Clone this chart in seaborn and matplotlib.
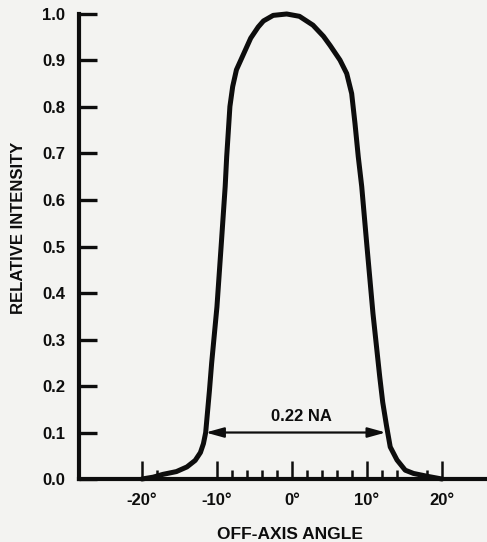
import matplotlib
matplotlib.use("Agg")
import matplotlib.pyplot as plt
import seaborn as sns
import pandas as pd
from matplotlib.ticker import FixedLocator, FixedFormatter

# Measured far-field intensity profile of the fiber output
angle_deg = [-20, -18.5, -17.2, -15.4, -14.0, -12.9, -12.2, -11.8, -11.5, -11.0, -10.7,
             -10.0, -9.4, -8.9, -8.7, -8.5, -8.27, -7.9, -7.4, -6.7, -5.5, -4.5,
             -3.8, -2.5, -0.7, 1.0, 2.8, 4.2, 5.1, 6.4, 7.3, 7.96, 8.4, 8.84, 9.3,
             10.0, 10.8, 11.7, 12.1, 12.6, 13.1, 14.0, 15.1, 16.2, 18.0, 20.0]
intensity = [0.0, 0.004, 0.010, 0.016, 0.026, 0.040, 0.057, 0.076, 0.10, 0.19, 0.25,
             0.37, 0.51, 0.629, 0.693, 0.743, 0.801, 0.844, 0.880, 0.905, 0.948, 0.972,
             0.985, 0.997, 1.0, 0.995, 0.976, 0.952, 0.932, 0.901, 0.872, 0.829, 0.765, 0.693, 0.629,
             0.50, 0.356, 0.22, 0.165, 0.115, 0.069, 0.041, 0.019, 0.012, 0.006, 0.0]

# Numerical-aperture marker at 10 % intensity
na_left, na_right, na_level = -11.5, 12.5, 0.1
na_label = "0.22 NA"

y_ticks = [0.0, 0.1, 0.2, 0.3, 0.4, 0.5, 0.6, 0.7, 0.8, 0.9, 1.0]
y_tick_labels = ["0.0", "0.1", "0.2", "0.3", "0.4", "0.5", "0.6", "0.7", "0.8", "0.9", "1.0"]
x_major = [-20, -10, 0, 10, 20]
x_major_labels = ["-20°", "-10°", "0°", "10°", "20°"]
x_minor = [-18, -8, -6, -4, -2, 2, 4, 6, 8, 12, 14, 18]

sns.set_theme(style="white")
plt.rcParams["font.family"] = ["Liberation Sans", "DejaVu Sans"]
plt.rcParams["font.weight"] = "bold"

paper = "#f3f3f1"
ink = "#0d0d0d"

fig = plt.figure(figsize=(4.87, 5.42), dpi=100, facecolor=paper)
ax = fig.add_axes([0.162, 0.1162, 0.838, 0.8580], facecolor=paper)

df = pd.DataFrame({"angle": angle_deg, "intensity": intensity})
sns.lineplot(data=df, x="angle", y="intensity", ax=ax, color=ink, linewidth=3.6,
             sort=False, clip_on=False, solid_capstyle="round", solid_joinstyle="round")

ax.annotate("", xy=(na_left, na_level), xytext=(na_right, na_level),
            arrowprops=dict(arrowstyle="<|-|>,head_length=0.9,head_width=0.25",
                            color=ink, lw=1.6, shrinkA=0, shrinkB=0))
ax.text(1.2, 0.135, na_label, ha="center", va="center", fontsize=12,
        fontweight="bold", color=ink)

ax.set_xlim(-28.4, 26.0)
ax.set_ylim(0, 1.0)

for side in ("top", "right"):
    ax.spines[side].set_visible(False)
for side in ("left", "bottom"):
    ax.spines[side].set_linewidth(3.0)
    ax.spines[side].set_color(ink)
    ax.spines[side].set_capstyle("projecting")

ax.yaxis.set_major_locator(FixedLocator(y_ticks))
ax.yaxis.set_major_formatter(FixedFormatter(y_tick_labels))
ax.xaxis.set_major_locator(FixedLocator(x_major))
ax.xaxis.set_major_formatter(FixedFormatter(x_major_labels))
ax.xaxis.set_minor_locator(FixedLocator(x_minor))

ax.tick_params(axis="y", which="major", direction="in", length=13, width=2.4,
               color=ink, pad=10, labelsize=12, labelcolor=ink, left=True)
ax.tick_params(axis="x", which="major", direction="in", length=13, width=1.8,
               color=ink, pad=10, labelsize=12, labelcolor=ink, bottom=True)
ax.tick_params(axis="x", which="minor", direction="in", length=6.5, width=1.8,
               color=ink, bottom=True)
for lab in ax.get_xticklabels() + ax.get_yticklabels():
    lab.set_fontweight("bold")

ax.set_xlabel("OFF-AXIS ANGLE", fontsize=12.5, fontweight="bold", color=ink)
ax.set_ylabel("RELATIVE INTENSITY", fontsize=12, fontweight="bold", color=ink)
ax.xaxis.set_label_coords(0.517, -0.103)
ax.yaxis.set_label_coords(-0.13, 0.54)
ax.grid(False)

fig.savefig("out.png", dpi=100, facecolor=paper)
